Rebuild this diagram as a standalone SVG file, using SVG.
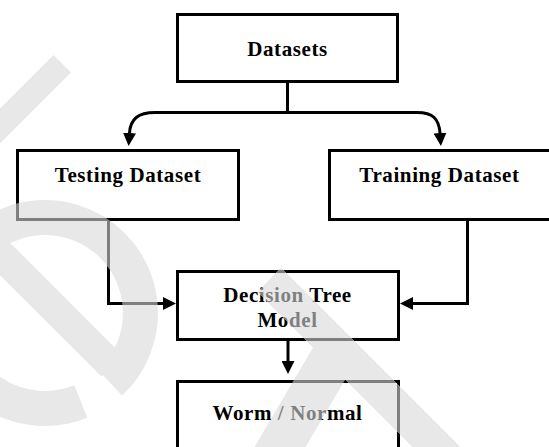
<svg xmlns="http://www.w3.org/2000/svg" width="549" height="447" viewBox="0 0 549 447">
  <defs>
    <marker id="arrow" markerUnits="userSpaceOnUse" viewBox="0 0 13 13" markerWidth="13" markerHeight="13" refX="0" refY="6.5" orient="auto-start-reverse">
      <path d="M0,0 L13,6.5 L0,13 Z" fill="#000"/>
    </marker>
  </defs>
  <style>
    .box { fill: #fff; stroke: #000; stroke-width: 3; }
    .lbl { font-family: "Liberation Serif", "Times New Roman", serif; font-weight: bold; font-size: 21px; letter-spacing: 0.6px; fill: #000; text-anchor: middle; }
    .conn { fill: none; stroke: #000; stroke-width: 3; }
    .wm { fill: #d9d9d9; stroke: #d9d9d9; }
  </style>
  <rect width="549" height="447" fill="#fff"/>

  <g id="connectors">
    <path class="conn" d="M287.5,83 V112.5"/>
    <path class="conn" d="M129.5,133 C130.5,119 138,112.5 155,112.5 H417 C433,112.5 439,119 440,133" marker-start="url(#arrow)" marker-end="url(#arrow)"/>
    <path class="conn" d="M108.5,220 V303.5 H163" marker-end="url(#arrow)"/>
    <path class="conn" d="M467.5,220 V303.5 H413" marker-end="url(#arrow)"/>
    <path class="conn" d="M288,341 V361" marker-end="url(#arrow)"/>
  </g>

  <g id="datasets">
    <rect class="box" x="177.5" y="14.5" width="220" height="67"/>
    <text class="lbl" x="287.5" y="56">Datasets</text>
  </g>
  <g id="testing">
    <rect class="box" x="17.5" y="150.5" width="221" height="69"/>
    <text class="lbl" x="128" y="182">Testing Dataset</text>
  </g>
  <g id="training">
    <rect class="box" x="329.5" y="150.5" width="224" height="69"/>
    <text class="lbl" x="439.5" y="182">Training Dataset</text>
  </g>
  <g id="decision">
    <rect class="box" x="177.5" y="271.5" width="221" height="68"/>
    <text class="lbl" x="287.5" y="302">Decision Tree</text>
    <text class="lbl" x="287.5" y="327">Model</text>
  </g>
  <g id="result">
    <rect class="box" x="177.5" y="381.5" width="221" height="80"/>
    <text class="lbl" x="287.5" y="420">Worm / Normal</text>
  </g>

  <g id="watermark" opacity="0.59">
    <polygon class="wm" stroke="none" points="53.5,55.5 70.5,72.5 -31.5,174.5 -48.5,157.5"/>
    <path d="M80.8,401.5 A95.5,95.5 0 1 1 110.1,382.8" fill="none" stroke="#d9d9d9" stroke-width="35"/>
    <line x1="-40" y1="214" x2="112" y2="366" stroke="#d9d9d9" stroke-width="30"/>
    <polygon class="wm" stroke="none" points="281,268 460,447 413,447 345,379 305,447 255,447 313.5,347.5 258,292"/>
  </g>
</svg>
